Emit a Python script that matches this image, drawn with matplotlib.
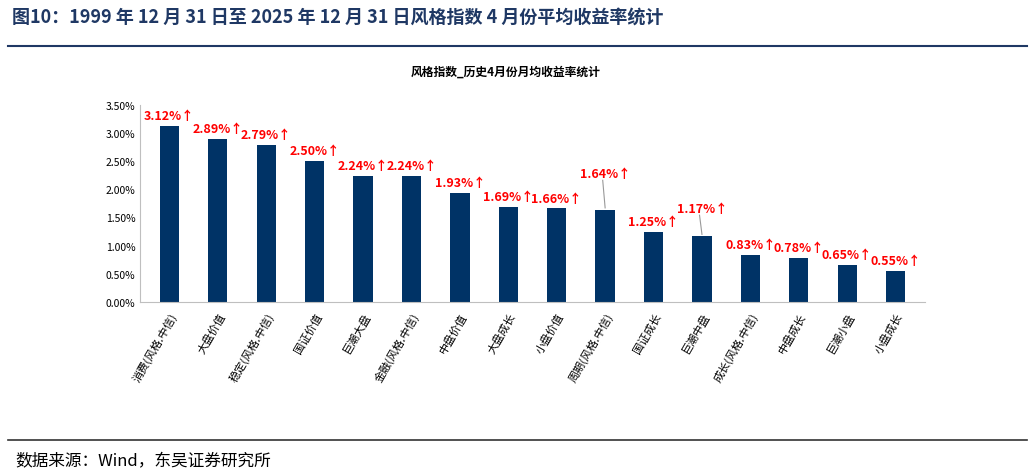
import matplotlib.pyplot as plt
from matplotlib.ticker import FuncFormatter

plt.rcParams['font.family'] = ['Noto Sans CJK SC', 'DejaVu Sans']

categories = ['消费(风格.中信)', '大盘价值', '稳定(风格.中信)', '国证价值', '巨潮大盘',
              '金融(风格.中信)', '中盘价值', '大盘成长', '小盘价值', '周期(风格.中信)',
              '国证成长', '巨潮中盘', '成长(风格.中信)', '中盘成长', '巨潮小盘', '小盘成长']
values = [3.12, 2.89, 2.79, 2.50, 2.24, 2.24, 1.93, 1.69, 1.66, 1.64,
          1.25, 1.17, 0.83, 0.78, 0.65, 0.55]
# labels lifted off the bar with a leader line
lifted = {9: 0.45, 11: 0.3}

fig = plt.figure(figsize=(10.32, 4.77), dpi=100)
fig.text(0.012, 0.965, '图10：1999 年 12 月 31 日至 2025 年 12 月 31 日风格指数 4 月份平均收益率统计',
         fontsize=13, fontweight='bold', color='#1f3864', va='center')
fig.add_artist(plt.Line2D([0.008, 0.995], [0.902, 0.902], color='#1f3864', lw=1.5))
fig.add_artist(plt.Line2D([0.008, 0.995], [0.075, 0.075], color='#333333', lw=1.2))
fig.text(0.015, 0.032, '数据来源：Wind，东吴证券研究所', fontsize=12, va='center')
fig.text(0.49, 0.848, '风格指数_历史4月份月均收益率统计', fontsize=8.5, fontweight='bold', ha='center', va='center')

ax = fig.add_axes([0.136, 0.365, 0.76, 0.413])
x = range(len(values))
ax.bar(x, values, width=0.4, color='#003366')
for i, v in enumerate(values):
    lift = lifted.get(i, 0.0)
    ty = v + 0.07 + lift
    if lift:
        ax.plot([i, i - 0.05], [v + 0.03, ty], color='#999999', lw=0.8)
    ax.text(i, ty, f'{v:.2f}%↑', color='red', fontsize=9, fontweight='bold',
            ha='center', va='bottom')
ax.set_ylim(0, 3.5)
ax.set_xlim(-0.6, len(values) - 0.4)
ax.set_yticks([i * 0.5 for i in range(8)])
ax.yaxis.set_major_formatter(FuncFormatter(lambda v, p: f'{v:.2f}%'))
ax.set_xticks(list(x))
ax.set_xticklabels(categories, rotation=60, ha='right', rotation_mode='anchor', fontsize=8)
ax.tick_params(axis='y', labelsize=7.5, length=0)
ax.tick_params(axis='x', length=0, pad=6)
for s in ['top', 'right']:
    ax.spines[s].set_visible(False)
for s in ['left', 'bottom']:
    ax.spines[s].set_color('#bfbfbf')

fig.savefig('out.png', dpi=100)
